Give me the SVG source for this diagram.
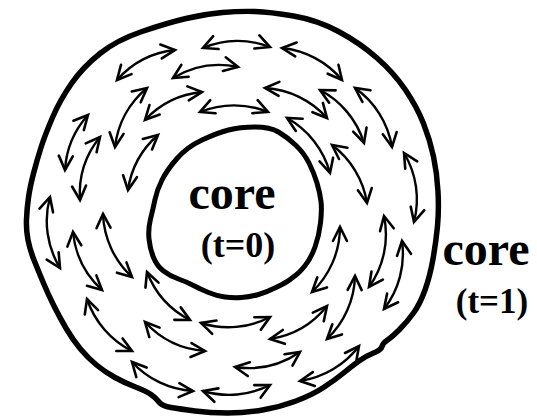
<svg xmlns="http://www.w3.org/2000/svg" width="537" height="419" viewBox="0 0 537 419">
<style>
.ring{fill:none;stroke:#000;stroke-linejoin:round;stroke-linecap:round}
.arr{fill:none;stroke:#000;stroke-width:2.4;marker-start:url(#h);marker-end:url(#h)}
.lbl{font-family:"Liberation Serif","Times New Roman",serif;font-weight:bold;fill:#000;text-anchor:middle}
</style>
<defs>
<marker id="h" viewBox="-17 -10 20 20" refX="0" refY="0" markerWidth="20" markerHeight="20" markerUnits="userSpaceOnUse" orient="auto-start-reverse">
<path d="M-14,-7 L0,0 L-14,7" fill="none" stroke="#000" stroke-width="2.6" stroke-linecap="round"/>
</marker>
</defs>
<rect width="537" height="419" fill="#fff"/>
<g id="outer-core">
<path class="ring" stroke-width="5.5" d="M 222.5 12.5 Q 240 11 255 11.5 Q 270 12 293.5 16 Q 317 20 338.5 31.5 Q 360 43 377 58 Q 394 73 405.5 90 Q 417 107 423.5 123.5 Q 430 140 433.5 156.5 Q 437 173 438 191.5 Q 439 210 437.5 226 Q 436 242 433 259 Q 430 276 425 290 Q 420 304 413.5 313 Q 407 322 399.5 329.5 Q 392 337 387.5 340 Q 383 343 382 346.5 Q 381 350 373.5 353 Q 366 356 359 361 Q 352 366 343.5 373 Q 335 380 323.5 387.5 Q 312 395 296 401 Q 280 407 262.5 410 Q 245 413 227.5 413 Q 210 413 195 411 Q 180 409 171 407.5 Q 162 406 159 402 Q 156 398 151 394.5 Q 146 391 135.5 387 Q 125 383 115 377.5 Q 105 372 96.5 365 Q 88 358 80.5 349 Q 73 340 66.5 329 Q 60 318 54 306 Q 48 294 43 282 Q 38 270 34 260 Q 30 250 28 240 Q 26 230 26.5 219 Q 27 208 28.5 197.5 Q 30 187 33.5 173.5 Q 37 160 41 147.5 Q 45 135 52.5 117.5 Q 60 100 71.5 83.5 Q 83 67 100 53.5 Q 117 40 142 31.5 Q 167 23 186 18.5 Q 205 14 222.5 12.5 Z"/>
<text class="lbl" x="486" y="265" font-size="48">core</text>
<text class="lbl" x="492" y="313" font-size="35">(t=1)</text>
</g>
<g id="inner-core">
<path class="ring" stroke-width="5" d="M 228.5 130 Q 240 127 255 127 Q 270 127 278.5 132 Q 287 137 295.5 145 Q 304 153 309 163 Q 314 173 317 183 Q 320 193 321 201.5 Q 322 210 320.5 223 Q 319 236 315 247 Q 311 258 305.5 265 Q 300 272 296 275 Q 292 278 289.5 280 Q 287 282 277 287 Q 267 292 258.5 294.5 Q 250 297 241.5 297.5 Q 233 298 225 297 Q 217 296 208.5 292.5 Q 200 289 193.5 285.5 Q 187 282 178.5 279 Q 170 276 163.5 271 Q 157 266 153.5 257.5 Q 150 249 149 239 Q 148 229 150.5 219 Q 153 209 155 199.5 Q 157 190 162 180 Q 167 170 177 158.5 Q 187 147 202 140 Q 217 133 228.5 130 Z"/>
<text class="lbl" x="232" y="209" font-size="48">core</text>
<text class="lbl" x="238" y="257" font-size="36">(t=0)</text>
</g>
<g id="connectors">
<path class="arr" d="M117 80 A90 90 0 0 1 175 50"/>
<path class="arr" d="M173 78 A90 90 0 0 1 238 67"/>
<path class="arr" d="M203 48 A90 90 0 0 1 270 47"/>
<path class="arr" d="M145 120 A90 90 0 0 1 202 92"/>
<path class="arr" d="M200 112 A90 90 0 0 1 268 112"/>
<path class="arr" d="M115 147 A90 90 0 0 1 147 88"/>
<path class="arr" d="M65 170 A90 90 0 0 1 88 115"/>
<path class="arr" d="M80 200 A90 90 0 0 1 100 137"/>
<path class="arr" d="M128 190 A90 90 0 0 1 158 135"/>
<path class="arr" d="M60 268 A90 90 0 0 1 50 197"/>
<path class="arr" d="M102 290 A90 90 0 0 1 73 232"/>
<path class="arr" d="M132 277 A90 90 0 0 1 103 214"/>
<path class="arr" d="M132 351 A90 90 0 0 1 87 299"/>
<path class="arr" d="M205 351 A90 90 0 0 1 145 322"/>
<path class="arr" d="M190 320 A90 90 0 0 1 147 272"/>
<path class="arr" d="M270 317 A90 90 0 0 1 201 323"/>
<path class="arr" d="M193 391 A90 90 0 0 1 132 362"/>
<path class="arr" d="M270 385 A90 90 0 0 1 203 391"/>
<path class="arr" d="M300 352 A90 90 0 0 1 235 367"/>
<path class="arr" d="M327 306 A90 90 0 0 1 270 339"/>
<path class="arr" d="M359 346 A90 90 0 0 1 300 381"/>
<path class="arr" d="M340 227 A90 90 0 0 1 312 292"/>
<path class="arr" d="M355 276 A90 90 0 0 1 327 339"/>
<path class="arr" d="M384 216 A90 90 0 0 1 369 287"/>
<path class="arr" d="M402 241 A90 90 0 0 1 384 309"/>
<path class="arr" d="M282 48 A90 90 0 0 1 342 80"/>
<path class="arr" d="M265 88 A90 90 0 0 1 327 118"/>
<path class="arr" d="M320 90 A90 90 0 0 1 364 143"/>
<path class="arr" d="M355 88 A90 90 0 0 1 392 147"/>
<path class="arr" d="M287 118 A90 90 0 0 1 330 173"/>
<path class="arr" d="M332 145 A90 90 0 0 1 367 203"/>
<path class="arr" d="M404 153 A90 90 0 0 1 414 222"/>
</g>
</svg>
